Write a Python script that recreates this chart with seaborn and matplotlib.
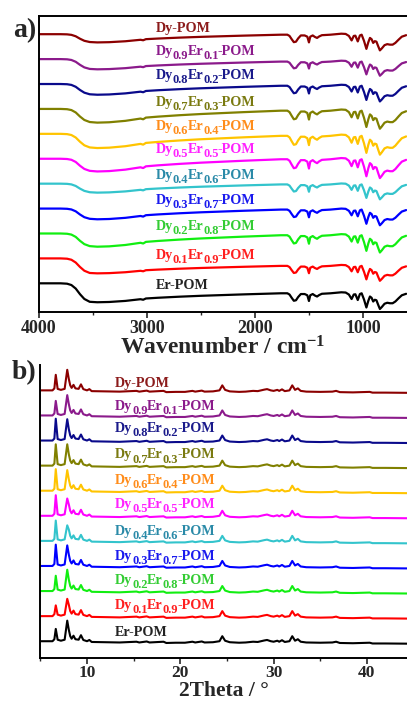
import numpy as np
import pandas as pd
import seaborn as sns
import matplotlib.pyplot as plt
from matplotlib.ticker import MultipleLocator, AutoMinorLocator

# samples, top to bottom
dy_frac = [1.0, 0.9, 0.8, 0.7, 0.6, 0.5, 0.4, 0.3, 0.2, 0.1, 0.0]
offsets = [10, 9, 8, 7, 6, 5, 4, 3, 2, 1, 0]

line_colors = ['#8B0000', '#8B1A8B', '#0A0A8B', '#808000', '#FFC400', '#FF00FF',
               '#33C4CC', '#0000FF', '#11EE11', '#FF0000', '#000000']
label_colors = ['#8B1A1A', '#8B1A8B', '#1A1A8B', '#7A7A10', '#FF8C1A', '#FF22FF',
                '#2A8AA8', '#1A1AEE', '#33CC33', '#FF2020', '#222222']

# IR: O-H region shape (fraction of dip) and ramp to plateau
oh_w = [4000, 3900, 3800, 3740, 3700, 3660, 3620, 3580, 3530, 3460, 3350, 3200,
        3060, 3035, 3010, 2900, 2700, 2500, 2300, 2100, 1900]
oh_shape = [0, 0, 0, 0.02, 0.08, 0.25, 0.55, 0.8, 0.95, 1.0, 0.97, 0.85,
            0.66, 0.72, 0.58, 0.5, 0.38, 0.28, 0.2, 0.12, 0.05]
oh_ramp = [0, 0, 0, 0.02, 0.1, 0.3, 0.6, 0.85, 1, 1, 1, 1,
           1, 1, 1, 1, 1, 1, 1, 1, 1]

# IR: fingerprint region (relative to plateau)
fp_w = [1760, 1700, 1680, 1660, 1640, 1620, 1600, 1575, 1540, 1515, 1500, 1488,
        1465, 1445, 1425, 1405, 1380, 1300, 1200, 1160, 1130, 1105, 1085, 1070,
        1048, 1028, 1012, 990, 968, 950, 935, 920, 905, 890, 875, 860, 843, 825,
        800, 775, 750, 725, 700, 670, 640, 600]
fp_val = [0, 0, -0.05, -0.18, -0.3, -0.28, -0.15, -0.03, -0.03, -0.08, -0.31, -0.08,
          -0.03, -0.09, -0.13, -0.07, -0.02, 0.0, 0.04, 0.03, -0.05, -0.23, -0.05, -0.04,
          -0.27, -0.03, 0.0, -0.25, -0.57, -0.3, -0.13, -0.18, -0.33, -0.26, -0.28, -0.45, -0.63, -0.55,
          -0.42, -0.38, -0.4, -0.4, -0.33, -0.2, -0.08, -0.02]

ir_depth = [0.31, 0.31, 0.36, 0.48, 0.49, 0.49, 0.33, 0.39, 0.46, 0.30, 0.36]
ir_plateau = [0.02, 0.10, 0.07, 0.07, 0.08, 0.02, 0.03, 0.04, 0.07, 0.30, 0.40]
ir_scale = [1.0, 0.9, 1.0, 1.15, 1.2, 1.2, 0.95, 1.0, 1.1, 0.95, 1.0]

# PXRD: shared minor profile, main peaks per sample
xrd_theta = [5.0, 6.3, 6.5, 6.65, 6.85, 7.2, 7.6, 7.88, 8.05, 8.2, 8.35, 8.55, 8.75,
             9.1, 9.35, 9.6, 10.0, 10.25, 10.5, 12.0, 13.5, 15.3, 15.6, 16.4, 16.7,
             18.2, 18.5, 19.5, 20.5, 21.3, 21.6, 22.3, 22.6, 23.5, 24.2, 24.5, 24.8,
             25.3, 26.3, 27.0, 27.8, 28.3, 29.0, 29.3, 29.7, 30.0, 30.4, 30.6, 30.9,
             31.2, 31.7, 32.0, 32.3, 32.6, 32.9, 33.5, 35.0, 36.3, 36.7, 37.1, 38.5,
             40.3, 40.6, 42.0, 45.0]
xrd_minor = [0.10, 0.10, 0.18, 0.0, 0.16, 0.12, 0.16, 0.0, 0.55, 0.3, 0.2, 0.32, 0.18,
             0.16, 0.34, 0.15, 0.1, 0.15, 0.07, 0.06, 0.05, 0.08, 0.05, 0.09, 0.05,
             0.08, 0.03, 0.04, 0.04, 0.08, 0.05, 0.09, 0.05, 0.06, 0.1, 0.3, 0.12,
             0.06, 0.04, 0.05, 0.08, 0.07, 0.13, 0.15, 0.1, 0.08, 0.12, 0.08, 0.14,
             0.07, 0.1, 0.3, 0.12, 0.18, 0.08, 0.05, 0.04, 0.05, 0.08, 0.03, 0.02,
             0.04, 0.01, 0.01, 0.0]
xrd_p1 = [0.72, 0.68, 0.97, 0.95, 0.96, 0.92, 0.91, 0.95, 0.71, 0.53, 0.59]
xrd_p2 = [0.92, 0.91, 0.95, 0.95, 0.92, 0.79, 0.72, 0.92, 0.95, 0.79, 0.92]

ir_label_dy = [0.1, 0.16, 0.2, 0.12, 0.16, 0.25, 0.2, 0.2, 0.13, -0.03, -0.24]
xrd_label_dy = [0.24, 0.33, 0.43, 0.39, 0.38, 0.42, 0.35, 0.33, 0.39, 0.38, 0.3]


def pieces_for(f):
    if f == 1.0:
        return [('Dy-POM', False)]
    if f == 0.0:
        return [('Er-POM', False)]
    return [('Dy', False), (f'{f:.1f}', True), ('Er', False),
            (f'{1 - f:.1f}', True), ('-POM', False)]


def put_label(ax, x, y, pieces, color, fs=10.2, drop=3.0):
    t = ax.text(x, y, pieces[0][0], color=color, fontsize=fs, fontweight='bold',
                ha='left', va='baseline')
    prev_sub = pieces[0][1]
    for s, sub in pieces[1:]:
        dy = 0
        dx = 0
        if sub and not prev_sub:
            dy = -drop
        elif prev_sub and not sub:
            dy = drop
            dx = -0.6
        t = ax.annotate(s, xy=(1, 0), xycoords=t, xytext=(dx, dy),
                        textcoords='offset points', ha='left', va='bottom',
                        color=color, fontsize=fs * (0.88 if sub else 1.0),
                        fontweight='bold')
        prev_sub = sub


sns.set_style('ticks')
plt.rcParams['font.family'] = ['Liberation Serif', 'DejaVu Serif']
plt.rcParams['font.weight'] = 'bold'
plt.rcParams['mathtext.fontset'] = 'custom'
plt.rcParams['mathtext.rm'] = 'Liberation Serif:bold'
plt.rcParams['mathtext.it'] = 'Liberation Serif:bold'
plt.rcParams['mathtext.bf'] = 'Liberation Serif:bold'

names = [''.join(p for p, _ in pieces_for(f)) for f in dy_frac]

# long-form tables
ir_rows = []
oh_shape_a = np.array(oh_shape)
oh_ramp_a = np.array(oh_ramp)
fp_val_a = np.array(fp_val)
for i, n in enumerate(names):
    y_oh = -ir_depth[i] * oh_shape_a - ir_plateau[i] * oh_ramp_a
    y_fp = -ir_plateau[i] + ir_scale[i] * fp_val_a
    ys = np.concatenate([y_oh, y_fp]) + offsets[i]
    ws = oh_w + fp_w
    ir_rows.append(pd.DataFrame({'w': ws, 'T': ys, 'sample': n}))
ir_df = pd.concat(ir_rows, ignore_index=True)

i1 = xrd_theta.index(6.65)
i2 = xrd_theta.index(7.88)
xrd_rows = []
for i, n in enumerate(names):
    inten = np.array(xrd_minor, dtype=float)
    inten[i1] = xrd_p1[i]
    inten[i2] = xrd_p2[i]
    xrd_rows.append(pd.DataFrame({'theta': xrd_theta, 'I': inten + offsets[i], 'sample': n}))
xrd_df = pd.concat(xrd_rows, ignore_index=True)

fig = plt.figure(figsize=(4.07, 7.02), dpi=100)
ax1 = fig.add_axes([0.0958, 0.5556, 0.9042, 0.4216])
ax2 = fig.add_axes([0.0983, 0.063, 0.9017, 0.417])

pal = dict(zip(names, line_colors))
sns.lineplot(data=ir_df, x='w', y='T', hue='sample', palette=pal, sort=False,
             estimator=None, units='sample', legend=False, linewidth=1.6, ax=ax1)
sns.lineplot(data=xrd_df, x='theta', y='I', hue='sample', palette=pal, sort=False,
             estimator=None, units='sample', legend=False, linewidth=1.5, ax=ax2)

ax1.set_xlim(4000, 592)
ax1.set_ylim(-1.15, 10.73)
ax2.set_xlim(4.96, 44.3)
ax2.set_ylim(-0.56, 11.11)

for i, f in enumerate(dy_frac):
    put_label(ax1, 2920, offsets[i] + ir_label_dy[i], pieces_for(f), label_colors[i])
    put_label(ax2, 13.0, offsets[i] + xrd_label_dy[i], pieces_for(f), label_colors[i])

ax1.xaxis.set_major_locator(MultipleLocator(1000))
ax2.xaxis.set_major_locator(MultipleLocator(10))

for ax in (ax1, ax2):
    ax.set_yticks([])
    ax.set_ylabel('')
    ax.spines['right'].set_visible(False)
    for s in ('left', 'bottom', 'top'):
        ax.spines[s].set_linewidth(1.4)
        ax.spines[s].set_color('black')
    ax.xaxis.set_minor_locator(AutoMinorLocator(2))
    ax.tick_params(axis='x', which='major', direction='out', length=4, width=1.2,
                   labelsize=13, pad=2)
    ax.tick_params(axis='x', which='minor', direction='out', length=2.5, width=1.0)
    plt.setp(ax.get_xticklabels(), fontweight='bold')

ax2.spines['top'].set_visible(False)
ax2.tick_params(axis='x', which='major', labelsize=12.5, pad=1.5)

ax1.set_xlabel('Wavenumber / cm$^{-1}$', fontsize=17, fontweight='bold', labelpad=-1)
ax2.set_xlabel('2Theta / \u00b0', fontsize=15.5, fontweight='bold', labelpad=0)

fig.text(0.033, 0.957, 'a)', fontsize=20, fontweight='bold', ha='left', va='center')
fig.text(0.028, 0.469, 'b)', fontsize=20, fontweight='bold', ha='left', va='center')

fig.savefig('out.png', dpi=100)
